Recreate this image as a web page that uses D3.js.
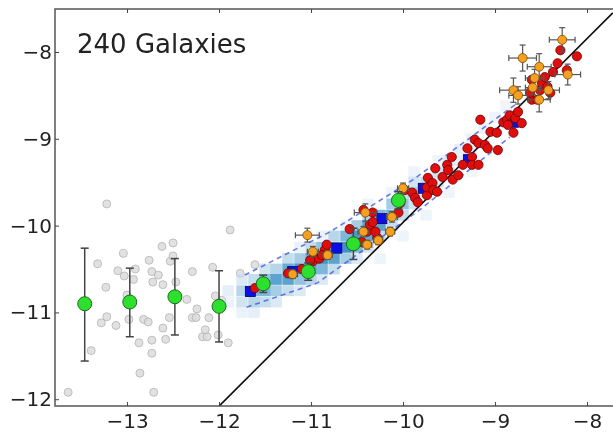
<!DOCTYPE html>
<html>
<head>
<meta charset="utf-8">
<script src="https://cdn.jsdelivr.net/npm/d3@7"></script>
<style>
  html, body { margin: 0; padding: 0; background: #fff; }
  svg { display: block; }
  text { font-family: "DejaVu Sans", sans-serif; }
</style>
</head>
<body>
<svg id="chart" width="613" height="434"></svg>
<script>
// ---------------- DATA ----------------
const xTickValues = [-13, -12, -11, -10, -9, -8];
const xTickLabels = ["−13", "−12", "−11", "−10", "−9", "−8"];
const yTickValues = [-12, -11, -10, -9, -8];
const yTickLabels = ["−12", "−11", "−10", "−9", "−8"];
const titleText = "240 Galaxies";

// light grey individual galaxies
const grayX = [-13.22,-13.64,-12.71,-12.86,-12.73,-13.39,-11.88,-13.32,-13.23,-13.10,-13.04,-13.03,-12.93,-12.91,-12.76,-12.73,-12.72,-12.66,-12.62,-12.61,-12.53,-12.50,-12.50,-12.47,-12.29,-12.35,-12.24,-12.29,-12.25,-12.11,-12.07,-12.04,-13.22,-13.28,-13.12,-12.98,-12.82,-12.77,-12.54,-12.61,-12.58,-12.73,-12.87,-12.18,-12.13,-12.01,-11.90,-12.15,-11.77,-11.61,-13.00,-12.48,-11.97];
const grayY = [-9.75,-11.92,-11.92,-11.70,-11.47,-11.44,-10.05,-10.44,-10.71,-10.52,-10.32,-10.58,-10.62,-10.50,-10.40,-10.53,-10.65,-10.57,-10.24,-10.68,-10.41,-10.20,-10.35,-10.65,-10.53,-10.85,-10.96,-11.06,-11.06,-11.06,-10.48,-10.81,-11.05,-11.12,-11.15,-11.08,-11.08,-11.11,-11.06,-11.18,-11.31,-11.32,-11.35,-11.28,-11.28,-11.26,-11.35,-11.20,-10.55,-10.45,-10.80,-10.83,-10.86];

// density (2D histogram) cells: centre x, centre y, relative density
const heatX = [-11.90,-11.90,-11.75,-11.75,-11.75,-11.75,-11.62,-11.62,-11.62,-11.62,-11.50,-11.50,-11.50,-11.50,-11.38,-11.38,-11.38,-11.38,-11.25,-11.25,-11.25,-11.25,-11.12,-11.12,-11.12,-11.12,-11.00,-11.00,-11.00,-11.00,-10.88,-10.88,-10.88,-10.88,-10.75,-10.75,-10.75,-10.75,-10.62,-10.62,-10.62,-10.50,-10.50,-10.50,-10.50,-10.38,-10.38,-10.38,-10.38,-10.25,-10.25,-10.25,-10.12,-10.12,-10.12,-10.00,-10.00,-10.00,-9.88,-9.88,-9.88,-9.75,-9.75,-9.62,-9.62,-9.50,-9.50,-9.38,-9.38,-9.25,-9.25,-9.12,-9.00,-8.88,-11.12,-10.88,-10.62,-10.38,-10.12,-9.88,-9.62,-9.50,-9.25,-10.25,-10.00,-9.75];
const heatY = [-10.75,-10.88,-10.62,-10.75,-10.88,-11.00,-10.62,-10.75,-10.88,-11.00,-10.50,-10.62,-10.75,-10.88,-10.50,-10.62,-10.75,-10.88,-10.38,-10.50,-10.62,-10.75,-10.38,-10.50,-10.62,-10.75,-10.25,-10.38,-10.50,-10.62,-10.25,-10.38,-10.50,-10.62,-10.12,-10.25,-10.38,-10.50,-10.12,-10.25,-10.38,-10.00,-10.12,-10.25,-10.38,-9.88,-10.00,-10.12,-10.25,-9.88,-10.00,-10.12,-9.75,-9.88,-10.00,-9.62,-9.75,-9.88,-9.50,-9.62,-9.75,-9.50,-9.62,-9.38,-9.50,-9.25,-9.38,-9.12,-9.25,-9.00,-9.12,-8.88,-8.75,-8.62,-10.25,-10.12,-10.00,-9.75,-9.62,-9.38,-9.25,-9.62,-9.38,-10.38,-10.12,-9.88];
const heatV = [0.15,0.10,0.20,0.35,0.25,0.10,0.30,0.50,0.35,0.15,0.25,0.45,0.50,0.30,0.35,0.60,0.40,0.20,0.30,0.55,0.60,0.30,0.40,0.65,0.45,0.20,0.30,0.55,0.60,0.35,0.45,0.70,0.50,0.20,0.35,0.65,0.60,0.30,0.50,0.70,0.40,0.40,0.65,0.50,0.20,0.35,0.60,0.55,0.25,0.50,0.60,0.30,0.40,0.55,0.30,0.30,0.45,0.30,0.25,0.40,0.25,0.30,0.25,0.25,0.20,0.20,0.20,0.15,0.15,0.12,0.12,0.10,0.08,0.06,0.10,0.10,0.10,0.08,0.08,0.08,0.06,0.06,0.05,0.08,0.08,0.08];

// dashed envelope lines
const dashUpperX = [-11.72, -10.79, -9.89, -8.76];
const dashUpperY = [-10.57, -10.07, -9.47, -8.59];
const dashLowerX = [-11.70, -10.93, -9.82, -8.84];
const dashLowerY = [-10.94, -10.66, -9.82, -8.98];

// reference line
const lineX = [-12.00, -7.72];
const lineY = [-12.08, -7.55];

// blue squares (binned means)
const blueX = [-11.66, -11.20, -10.72, -10.23, -9.78, -9.29, -8.80];
const blueY = [-10.76, -10.53, -10.26, -9.92, -9.57, -9.24, -8.81];

// red galaxies
const redX = [-11.61,-11.25,-11.10,-10.98,-10.91,-10.85,-10.83,-10.58,-10.45,-10.39,-10.36,-10.28,-10.33,-10.43,-10.33,-10.30,-10.05,-10.03,-9.98,-9.90,-9.87,-9.84,-9.74,-9.74,-10.88,-11.01,-9.73,-9.68,-9.67,-9.65,-9.63,-9.57,-9.52,-9.51,-9.47,-9.46,-9.40,-9.35,-9.30,-9.25,-9.25,-9.18,-9.22,-9.18,-9.11,-9.08,-9.05,-8.98,-8.97,-9.16,-8.91,-8.87,-8.86,-8.84,-8.80,-8.78,-8.75,-8.71,-8.60,-8.54,-8.60,-8.51,-8.49,-8.46,-8.43,-8.40,-8.37,-8.32,-8.29,-8.11,-8.22,-8.62];
const redY = [-10.72,-10.55,-10.50,-10.41,-10.38,-10.28,-10.22,-10.04,-10.19,-10.07,-9.99,-10.14,-9.85,-9.82,-9.96,-10.07,-9.85,-9.74,-9.59,-9.62,-9.68,-9.73,-9.65,-9.56,-10.34,-10.40,-9.45,-9.51,-9.59,-9.34,-9.61,-9.44,-9.30,-9.36,-9.21,-9.47,-9.42,-9.30,-9.11,-9.21,-9.30,-9.30,-9.01,-9.05,-9.07,-9.11,-8.92,-8.93,-9.13,-8.78,-8.81,-8.78,-8.84,-8.73,-8.93,-8.76,-8.69,-8.82,-8.55,-8.55,-8.32,-8.44,-8.36,-8.29,-8.40,-8.47,-8.23,-8.13,-7.98,-8.05,-8.21,-8.47];

// orange galaxies with x/y error bars
const orangeX = [-11.04,-11.20,-10.98,-10.82,-10.41,-10.43,-10.39,-10.27,-10.12,-10.14,-10.00,-8.27,-8.70,-8.52,-8.21,-8.57,-8.80,-8.75,-8.52,-8.42,-8.59];
const orangeY = [-10.11,-10.56,-10.30,-10.34,-9.85,-10.07,-10.22,-10.17,-9.90,-10.07,-9.57,-7.86,-8.07,-8.17,-8.26,-8.30,-8.44,-8.50,-8.55,-8.44,-8.41];
const orangeXErr = [0.13,0.05,0.06,0.05,0.12,0.06,0.05,0.05,0.06,0.05,0.06,0.14,0.15,0.13,0.14,0.10,0.15,0.10,0.12,0.12,0.08];
const orangeYErr = [0.08,0.05,0.06,0.05,0.10,0.06,0.05,0.05,0.06,0.05,0.06,0.14,0.15,0.15,0.12,0.10,0.14,0.10,0.14,0.10,0.08];

// green binned means with error bars
const greenX = [-13.46, -12.97, -12.48, -12.00, -11.52, -11.03, -10.54, -10.05];
const greenY = [-10.90, -10.88, -10.82, -10.93, -10.67, -10.53, -10.21, -9.71];
const greenYHi = [-10.26, -10.49, -10.38, -10.52, -10.57, -10.43, -10.03, -9.61];
const greenYLo = [-11.56, -11.28, -11.26, -11.34, -10.77, -10.63, -10.39, -9.81];

// ---------------- CHART ----------------
const svg = d3.select("#chart");
const W = 613, H = 434;
const mLeft = 55, mTop = 9, mRight = 614, mBottom = 406;

const x = d3.scaleLinear().domain([-13.783, -7.707]).range([mLeft, mRight]);
const y = d3.scaleLinear().domain([-12.078, -7.505]).range([mBottom, mTop]);

svg.append("rect").attr("width", W).attr("height", H).attr("fill", "#fff");

const defs = svg.append("defs");
defs.append("clipPath").attr("id", "clip")
  .append("rect").attr("x", mLeft).attr("y", mTop)
  .attr("width", mRight - mLeft).attr("height", mBottom - mTop);
defs.append("filter").attr("id", "soft").attr("x", "-5%").attr("y", "-5%")
  .attr("width", "110%").attr("height", "110%")
  .append("feGaussianBlur").attr("stdDeviation", 0.6);

const plot = svg.append("g").attr("clip-path", "url(#clip)")
  .append("g").attr("filter", "url(#soft)");

// grey points
plot.append("g").selectAll("circle").data(d3.range(grayX.length)).join("circle")
  .attr("cx", i => x(grayX[i])).attr("cy", i => y(grayY[i])).attr("r", 4)
  .attr("fill", "#dcdcdc").attr("stroke", "#b3b3b3").attr("stroke-width", 1)
  .attr("opacity", 0.85);

// heat map cells
const cw = 0.125, ch = 0.125;
plot.append("g").selectAll("rect").data(d3.range(heatX.length)).join("rect")
  .attr("x", i => x(heatX[i] - cw / 2))
  .attr("y", i => y(heatY[i] + ch / 2))
  .attr("width", i => x(heatX[i] + cw / 2) - x(heatX[i] - cw / 2))
  .attr("height", i => y(heatY[i] - ch / 2) - y(heatY[i] + ch / 2))
  .attr("fill", i => d3.interpolateBlues(0.1 + heatV[i] * 0.75))
  .attr("opacity", i => Math.min(1, 0.35 + heatV[i] * 1.2));

// dashed envelopes
const lineGen = d3.line().x(d => x(d[0])).y(d => y(d[1]));
[[dashUpperX, dashUpperY], [dashLowerX, dashLowerY]].forEach(([xs, ys]) => {
  plot.append("path").datum(xs.map((v, i) => [v, ys[i]]))
    .attr("d", lineGen).attr("fill", "none")
    .attr("stroke", "#3b4fd8").attr("stroke-width", 1.6)
    .attr("stroke-dasharray", "5,4").attr("opacity", 0.75);
});

// reference line
plot.append("path").datum(lineX.map((v, i) => [v, lineY[i]]))
  .attr("d", lineGen).attr("fill", "none")
  .attr("stroke", "#111").attr("stroke-width", 1.6);

// blue squares
const bs = 10;
plot.append("g").selectAll("rect").data(d3.range(blueX.length)).join("rect")
  .attr("x", i => x(blueX[i]) - bs / 2).attr("y", i => y(blueY[i]) - bs / 2)
  .attr("width", bs).attr("height", bs)
  .attr("fill", "#1010e8").attr("stroke", "#000060").attr("stroke-width", 0.8);

// red points
plot.append("g").selectAll("circle").data(d3.range(redX.length)).join("circle")
  .attr("cx", i => x(redX[i])).attr("cy", i => y(redY[i])).attr("r", 4.6)
  .attr("fill", "#e01010").attr("stroke", "#6a0000").attr("stroke-width", 0.8);

// orange error bars + points
const og = plot.append("g");
d3.range(orangeX.length).forEach(i => {
  const cx = x(orangeX[i]), cy = y(orangeY[i]);
  const x0 = x(orangeX[i] - orangeXErr[i]), x1 = x(orangeX[i] + orangeXErr[i]);
  const y0 = y(orangeY[i] - orangeYErr[i]), y1 = y(orangeY[i] + orangeYErr[i]);
  const c = 3;
  const g = og.append("g").attr("stroke", "#555").attr("stroke-width", 1.2);
  g.append("line").attr("x1", x0).attr("x2", x1).attr("y1", cy).attr("y2", cy);
  g.append("line").attr("x1", cx).attr("x2", cx).attr("y1", y0).attr("y2", y1);
  g.append("line").attr("x1", x0).attr("x2", x0).attr("y1", cy - c).attr("y2", cy + c);
  g.append("line").attr("x1", x1).attr("x2", x1).attr("y1", cy - c).attr("y2", cy + c);
  g.append("line").attr("x1", cx - c).attr("x2", cx + c).attr("y1", y0).attr("y2", y0);
  g.append("line").attr("x1", cx - c).attr("x2", cx + c).attr("y1", y1).attr("y2", y1);
});
og.selectAll("circle").data(d3.range(orangeX.length)).join("circle")
  .attr("cx", i => x(orangeX[i])).attr("cy", i => y(orangeY[i])).attr("r", 4.5)
  .attr("fill", "#f5a020").attr("stroke", "#7a4a00").attr("stroke-width", 0.8);

// green error bars + points
const gg = plot.append("g");
d3.range(greenX.length).forEach(i => {
  const cx = x(greenX[i]);
  const g = gg.append("g").attr("stroke", "#444").attr("stroke-width", 1.5);
  g.append("line").attr("x1", cx).attr("x2", cx).attr("y1", y(greenYHi[i])).attr("y2", y(greenYLo[i]));
  g.append("line").attr("x1", cx - 4).attr("x2", cx + 4).attr("y1", y(greenYHi[i])).attr("y2", y(greenYHi[i]));
  g.append("line").attr("x1", cx - 4).attr("x2", cx + 4).attr("y1", y(greenYLo[i])).attr("y2", y(greenYLo[i]));
});
gg.selectAll("circle").data(d3.range(greenX.length)).join("circle")
  .attr("cx", i => x(greenX[i])).attr("cy", i => y(greenY[i])).attr("r", 7)
  .attr("fill", "#2ee02e").attr("stroke", "#1f6a1f").attr("stroke-width", 1);

// frame
svg.append("rect").attr("x", mLeft).attr("y", mTop)
  .attr("width", mRight - mLeft).attr("height", mBottom - mTop)
  .attr("fill", "none").attr("stroke", "#555").attr("stroke-width", 1.5);

// axes
const xAxis = d3.axisBottom(x).tickValues(xTickValues)
  .tickFormat((d, i) => xTickLabels[i]).tickSizeInner(-4).tickSizeOuter(0).tickPadding(8);
const gx = svg.append("g").attr("transform", `translate(0,${mBottom})`).call(xAxis);

const xTop = d3.axisTop(x).tickValues(xTickValues).tickFormat("")
  .tickSizeInner(-4).tickSizeOuter(0);
const gxt = svg.append("g").attr("transform", `translate(0,${mTop})`).call(xTop);

const yAxis = d3.axisLeft(y).tickValues(yTickValues)
  .tickFormat((d, i) => yTickLabels[i]).tickSizeInner(-4).tickSizeOuter(0).tickPadding(3);
const gy = svg.append("g").attr("transform", `translate(${mLeft},0)`).call(yAxis);

[gx, gxt, gy].forEach(g => {
  g.select(".domain").remove();
  g.selectAll(".tick line").attr("stroke", "#444").attr("stroke-width", 1);
  g.selectAll(".tick text").attr("fill", "#222").attr("font-size", 20)
    .attr("font-family", "DejaVu Sans, sans-serif");
});

// title text
svg.append("text").attr("x", 77).attr("y", 53)
  .attr("font-size", 26).attr("fill", "#222")
  .text(titleText);
</script>
</body>
</html>
